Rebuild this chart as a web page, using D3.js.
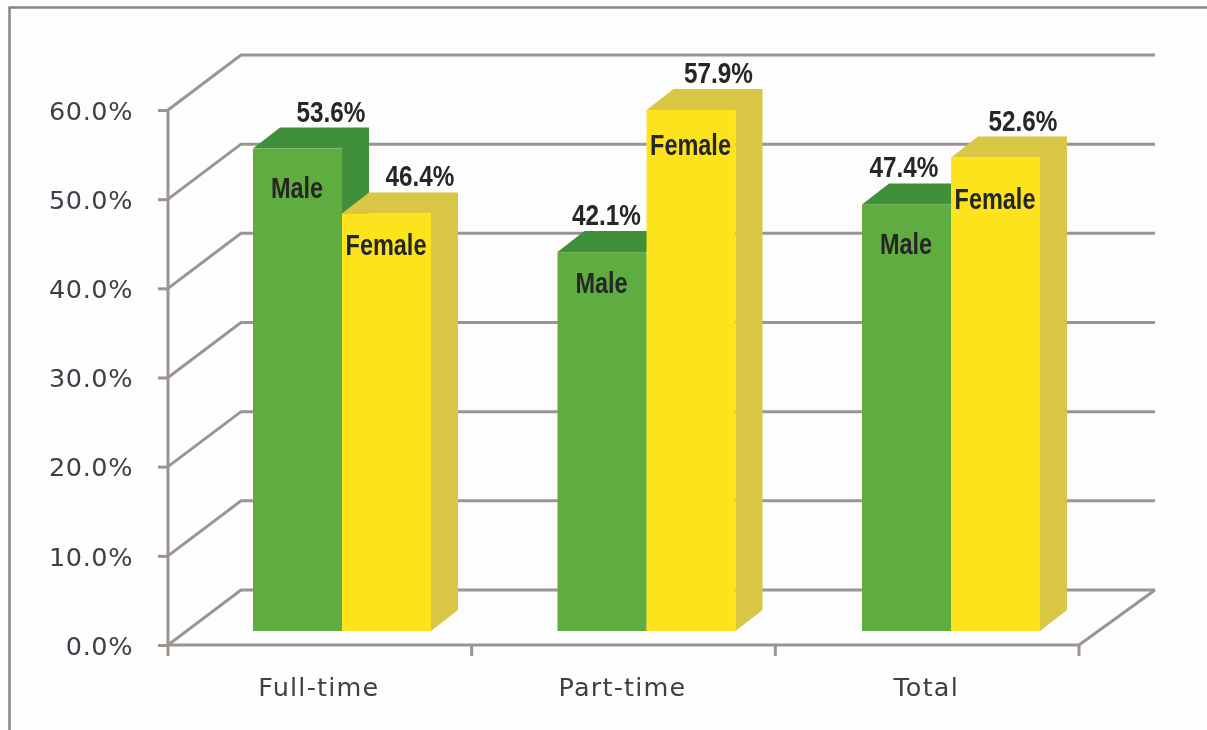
<!DOCTYPE html>
<html>
<head>
<meta charset="utf-8">
<script src="https://cdn.jsdelivr.net/npm/d3@7"></script>
<style>
  html, body { margin: 0; padding: 0; background: #fefdfd; overflow: hidden; }
  svg { display: block; }
  .tick-label { font-family: "DejaVu Sans", sans-serif; font-size: 25.5px; fill: #3c4048; }
  .bar-label { font-family: "Liberation Sans", sans-serif; font-weight: bold; fill: #262626; }
</style>
</head>
<body>
<div id="chart"></div>
<script>
// Data
const categories = ["Full-time", "Part-time", "Total"];
const seriesNames = ["Male", "Female"];
const maleValues = [53.6, 42.1, 47.4];
const femaleValues = [46.4, 57.9, 52.6];
const yTicks = [0, 10, 20, 30, 40, 50, 60];

// Label nudges, in order male/female for each category
const valueLabelDx = [[78, 78], [49, 72], [42, 72]];
const nameLabelDy = [[49, 42], [41, 45], [50, 51]];

const width = 1207;
const height = 730;

// Chart box geometry
const left = 168, right = 1079, floorY = 645, topY = 110;
const depthX = 73, depthY = 55;
const barDepthX = 27, barDepthY = 21;
const gridColor = "#9c9491";
const narrow = 0.81; // the labels use a condensed face

const svg = d3.select("#chart")
  .append("svg")
    .attr("width", width)
    .attr("height", height);

const defs = svg.append("defs");
defs.append("filter").attr("id", "soft")
  .append("feGaussianBlur").attr("stdDeviation", 0.55);

const root = svg.append("g").attr("filter", "url(#soft)");

// Scales
const y = d3.scaleLinear().domain([0, 60]).range([floorY, topY]);
const yBar = d3.scaleLinear().domain([0, 60]).range([631, 91]);
const x = d3.scaleBand().domain(categories).range([left, right]);
const xBar = d3.scaleBand().domain(categories).range([left, left + 913.5]);
const xInner = d3.scaleBand().domain(seriesNames).range([85, 263]);
const color = d3.scaleOrdinal().domain(seriesNames).range(["#5fad3f", "#fce31f"]);
const colorDark = d3.scaleOrdinal().domain(seriesNames).range(["#3f8f3b", "#d9c645"]);

// Picture frame, open on the right and bottom
root.append("path")
  .attr("d", `M9.5,${height} V7.5 H${width}`)
  .attr("fill", "none")
  .attr("stroke", "#8b8380")
  .attr("stroke-width", 2.5);

// Gridlines on the back wall and the side wall
const grid = root.append("g")
  .attr("fill", "none")
  .attr("stroke", gridColor)
  .attr("stroke-width", 3);

grid.selectAll("path")
  .data(yTicks)
  .join("path")
    .attr("d", d => `M${left},${y(d)} L${left + depthX},${y(d) - depthY} H${right + depthX + 3}`);

// Floor right edge
grid.append("path")
  .attr("d", `M${right},${floorY} L${right + depthX + 3},${floorY - depthY}`);

// Y axis
const yAxis = root.append("g")
  .attr("transform", `translate(${left},0)`)
  .call(d3.axisLeft(y).tickValues(yTicks).tickSize(10).tickPadding(25).tickFormat(d => d3.format(".1f")(d) + "%"));
yAxis.selectAll("path, line").attr("stroke", gridColor).attr("stroke-width", 3);
yAxis.select(".domain").attr("d", `M0,${floorY}V${topY}`);
yAxis.selectAll("text")
  .attr("class", "tick-label")
  .attr("dy", "0.36em")
  .attr("letter-spacing", 0.6);

// X axis: labels from the band scale, ticks on the band edges
const xAxis = root.append("g")
  .attr("transform", `translate(0,${floorY})`)
  .call(d3.axisBottom(x).tickSize(0).tickPadding(0));
xAxis.select(".domain").attr("d", `M${left},0H${right}`).attr("stroke", gridColor).attr("stroke-width", 3);
xAxis.selectAll("text")
  .attr("class", "tick-label")
  .attr("y", 42)
  .attr("dy", "0.36em")
  .attr("dx", -1)
  .attr("letter-spacing", 1.2);
xAxis.selectAll(".edge")
  .data(d3.range(categories.length + 1))
  .join("line")
    .attr("class", "edge")
    .attr("x1", i => left + i * x.step())
    .attr("x2", i => left + i * x.step())
    .attr("y2", 11)
    .attr("stroke", gridColor)
    .attr("stroke-width", 3);

// Bars
const barData = categories.flatMap((c, i) => [
  {category: c, index: i, serie: 0, name: "Male", value: maleValues[i]},
  {category: c, index: i, serie: 1, name: "Female", value: femaleValues[i]}
]);
const barX = d => xBar(d.category) + xInner(d.name);
const w = xInner.bandwidth();

const bars = root.selectAll(".bar")
  .data(barData)
  .join("g")
    .attr("class", "bar");

// top and side faces
bars.append("path")
  .attr("fill", d => colorDark(d.name))
  .attr("d", d => {
    const x0 = barX(d), x1 = x0 + w, y0 = yBar(d.value), y1 = yBar(0);
    return `M${x0},${y0} L${x0 + barDepthX},${y0 - barDepthY} H${x1 + barDepthX} V${y1 - barDepthY} L${x1},${y1} V${y0} Z`;
  });

// front face
bars.append("rect")
  .attr("x", barX)
  .attr("y", d => yBar(d.value))
  .attr("width", w)
  .attr("height", d => yBar(0) - yBar(d.value))
  .attr("fill", d => color(d.name));

// Value labels
root.selectAll(".value-label")
  .data(barData)
  .join("text")
    .attr("class", "bar-label value-label")
    .attr("text-anchor", "middle")
    .attr("font-size", 30)
    .attr("transform", d => `translate(${barX(d) + valueLabelDx[d.index][d.serie]},${yBar(d.value) - 27}) scale(${narrow},1)`)
    .text(d => d.value.toFixed(1) + "%");

// Series name labels
root.selectAll(".name-label")
  .data(barData)
  .join("text")
    .attr("class", "bar-label name-label")
    .attr("text-anchor", "middle")
    .attr("font-size", 29)
    .attr("transform", d => `translate(${barX(d) + 44},${yBar(d.value) + nameLabelDy[d.index][d.serie]}) scale(${narrow},1)`)
    .text(d => d.name);
</script>
</body>
</html>
